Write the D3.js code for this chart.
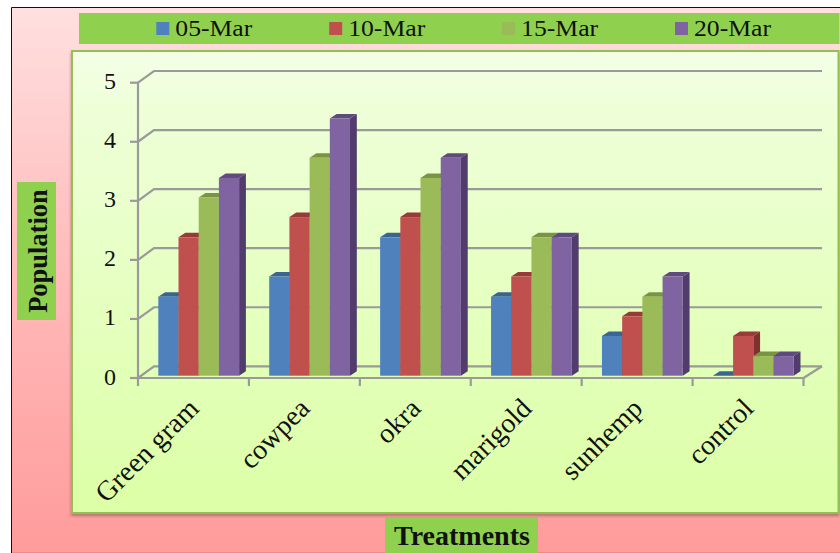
<!DOCTYPE html>
<html>
<head>
<meta charset="utf-8">
<script src="https://cdnjs.cloudflare.com/ajax/libs/d3/7.8.5/d3.min.js"></script>
<style>
  html, body { margin: 0; padding: 0; background: #fff; }
  svg { display: block; }
  text { font-family: "Liberation Serif", "Times New Roman", serif; fill: #111; }
</style>
</head>
<body>
<svg id="chart" width="840" height="553"></svg>
<script>
// Pest population per treatment at each observation date
const treatments = ["Green gram", "cowpea", "okra", "marigold", "sunhemp", "control"];
const dates = ["05-Mar", "10-Mar", "15-Mar", "20-Mar"];
const mar05 = [1.33, 1.67, 2.33, 1.33, 0.67, 0];
const mar10 = [2.33, 2.67, 2.67, 1.67, 1, 0.67];
const mar15 = [3, 3.67, 3.33, 2.33, 1.33, 0.33];
const mar20 = [3.33, 4.33, 3.67, 2.33, 1.67, 0.33];
const seriesValues = [mar05, mar10, mar15, mar20];
const yTicks = [0, 1, 2, 3, 4, 5];

const faceColors = ["#4f81bd", "#c0504d", "#9bbb59", "#8064a2"];
const capColors = ["#3a6593", "#98393a", "#7a9444", "#5f4a80"];
const sideColors = ["#2f5480", "#7f2f2e", "#667c39", "#513c6d"];

const svg = d3.select("#chart");
const defs = svg.append("defs");

function verticalGradient(id, stops) {
  const g = defs.append("linearGradient").attr("id", id)
    .attr("x1", 0).attr("y1", 0).attr("x2", 0).attr("y2", 1);
  stops.forEach(([o, c]) => g.append("stop").attr("offset", o).attr("stop-color", c));
}
verticalGradient("pageFill", [[0, "#ffe0e0"], [0.4, "#ffc0c0"], [1, "#ff9b9b"]]);
verticalGradient("panelFill", [[0, "#f4ffe6"], [0.12, "#eeffd8"], [1, "#dcffa6"]]);

const shadow = defs.append("filter").attr("id", "panelShadow")
  .attr("x", "-2%").attr("y", "-2%").attr("width", "104%").attr("height", "104%");
shadow.append("feDropShadow").attr("dx", 0).attr("dy", 2).attr("stdDeviation", 1.5)
  .attr("flood-color", "#7a5a4a").attr("flood-opacity", 0.6);

// Page frame: dark rule along the top and left only
svg.append("rect").attr("x", 11.5).attr("y", 7.5).attr("width", 829).attr("height", 545.5)
  .attr("fill", "url(#pageFill)");
svg.append("path").attr("d", "M11.5,553V7.5H840").attr("fill", "none").attr("stroke", "#111");
svg.append("line").attr("x1", 12).attr("x2", 840).attr("y1", 552.5).attr("y2", 552.5).attr("stroke", "#f08a8a");

// Legend band
svg.append("rect").attr("x", 79).attr("y", 13).attr("width", 760.5).attr("height", 31).attr("fill", "#8fd14f");

// Plot panel
svg.append("rect").attr("x", 72).attr("y", 51).attr("width", 766.5).attr("height", 462)
  .attr("fill", "url(#panelFill)").attr("stroke", "#93bf55").attr("stroke-width", 2)
  .attr("filter", "url(#panelShadow)");

// Front plane of the 3D box and the offsets to its back wall
const frontLeft = 138, frontRight = 803.5, leftDepthX = 16, rightDepthX = 18.5, depthY = -11.7;
const y = d3.scaleLinear().domain([0, 5]).range([378, 82.7]);
const barY = d3.scaleLinear().domain([0, 5]).range([375.7, 78.7]);
const x = d3.scaleBand().domain(treatments).range([frontLeft, frontRight]);
const groupInset = 20.3, barWidth = 20.2, barDepthX = 6.8, barDepthY = -4.5;
const inner = d3.scaleBand().domain(dates).range([groupInset, groupInset + barWidth * 4]);

const gridColor = "#9a9a9a";
const grid = svg.append("g").attr("fill", "none").attr("stroke", gridColor).attr("stroke-width", 2.2);

// Back-wall gridlines with their connectors down the left wall
grid.selectAll("path.wall").data(yTicks).join("path").attr("class", "wall")
  .attr("d", t => `M${frontLeft},${y(t)}L${frontLeft + leftDepthX},${y(t) + depthY}L${frontRight + rightDepthX},${y(t) + depthY}`);

// Vertical axis, floor front edge and floor right edge
grid.append("line").attr("x1", frontLeft).attr("x2", frontLeft).attr("y1", y(5)).attr("y2", y(0));
grid.append("line").attr("x1", frontLeft).attr("x2", frontRight).attr("y1", y(0)).attr("y2", y(0));
grid.append("line").attr("x1", frontRight).attr("x2", frontRight + rightDepthX).attr("y1", y(0)).attr("y2", y(0) + depthY);

// Tick marks
grid.selectAll("line.ytick").data(yTicks).join("line").attr("class", "ytick")
  .attr("x1", frontLeft - 8).attr("x2", frontLeft).attr("y1", t => y(t)).attr("y2", t => y(t));
const xTickPositions = treatments.map(t => x(t)).concat(frontRight);
grid.selectAll("line.xtick").data(xTickPositions).join("line").attr("class", "xtick")
  .attr("x1", d => d).attr("x2", d => d).attr("y1", y(0)).attr("y2", y(0) + 8);

// Tick labels
svg.selectAll("text.ylabel").data(yTicks).join("text").attr("class", "ylabel")
  .attr("x", frontLeft - 28).attr("y", t => y(t) + 1)
  .attr("text-anchor", "middle").attr("dominant-baseline", "middle")
  .attr("font-size", 24).text(t => t);

// Bars, drawn left to right so each side face is covered by its neighbour
const groups = svg.selectAll("g.treatment").data(treatments).join("g").attr("class", "treatment");
groups.each(function (name, ti) {
  const g = d3.select(this);
  dates.forEach((date, si) => {
    const v = seriesValues[si][ti];
    const x0 = x(name) + inner(date);
    const x1 = x0 + inner.bandwidth();
    const base = barY(0);
    const top = barY(v);
    g.append("path").attr("fill", sideColors[si])
      .attr("d", `M${x1},${base}L${x1 + barDepthX},${base + barDepthY}L${x1 + barDepthX},${top + barDepthY}L${x1},${top}Z`);
    g.append("path").attr("fill", capColors[si])
      .attr("d", `M${x0},${top}L${x0 + barDepthX},${top + barDepthY}L${x1 + barDepthX},${top + barDepthY}L${x1},${top}Z`);
    g.append("rect").attr("x", x0).attr("y", top)
      .attr("width", inner.bandwidth()).attr("height", base - top).attr("fill", faceColors[si]);
  });
});

// Slanted category labels
svg.selectAll("text.xlabel").data(treatments).join("text").attr("class", "xlabel")
  .attr("text-anchor", "end")
  .attr("transform", t => `translate(${x(t) + x.bandwidth() * 0.5 + 7},${y(0) + 32}) rotate(-45)`)
  .attr("font-size", 28).text(t => t);

// Legend
const legendX = d3.scalePoint().domain(dates).range([156.3, 675]);
const legend = svg.selectAll("g.legend").data(dates).join("g").attr("class", "legend")
  .attr("transform", d => `translate(${legendX(d)},0)`);
legend.append("rect").attr("y", 22).attr("width", 13).attr("height", 13)
  .attr("fill", (d, i) => faceColors[i]);
legend.append("text").attr("transform", "translate(19,36) scale(1.07,1)")
  .attr("font-size", 24).text(d => d);

// Axis titles on their green plates
svg.append("rect").attr("x", 17).attr("y", 182).attr("width", 39).attr("height", 138).attr("fill", "#8fd14f");
svg.append("text").attr("transform", "translate(47,251) rotate(-90)")
  .attr("text-anchor", "middle").attr("font-size", 26.5).attr("font-weight", "bold").text("Population");
svg.append("rect").attr("x", 385).attr("y", 517).attr("width", 153).attr("height", 36).attr("fill", "#8fd14f");
svg.append("text").attr("x", 462).attr("y", 545)
  .attr("text-anchor", "middle").attr("font-size", 28).attr("font-weight", "bold").text("Treatments");
</script>
</body>
</html>
